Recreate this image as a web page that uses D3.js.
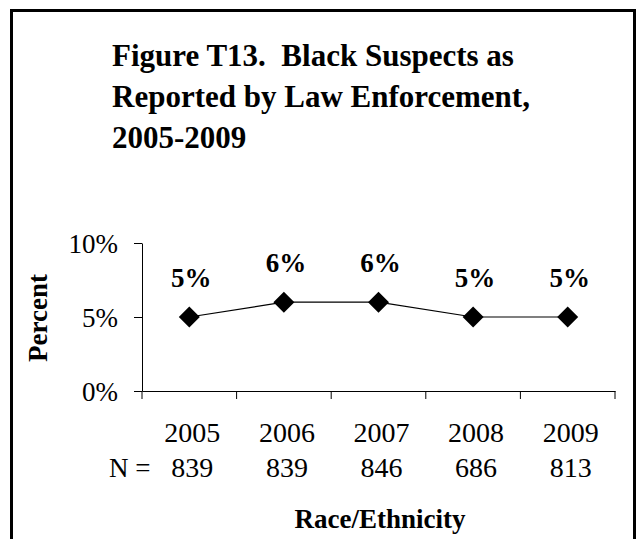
<!DOCTYPE html>
<html><head><meta charset="utf-8">
<script src="https://cdn.jsdelivr.net/npm/d3@7"></script>
<style>body{margin:0;background:#fff}svg{display:block}text{font-family:"Liberation Serif","Times New Roman",serif;fill:#000;white-space:pre}</style>
</head><body><svg id="c" width="637" height="539"></svg>
<script>
const titleLines = ["Figure T13.  Black Suspects as", "Reported by Law Enforcement,", "2005-2009"];
const years = ["2005", "2006", "2007", "2008", "2009"];
const values = [5, 6, 6, 5, 5];
const valueLabels = ["5%", "6%", "6%", "5%", "5%"];
const counts = ["839", "839", "846", "686", "813"];
const yTicks = [0, 5, 10];
const yTitle = "Percent";
const xTitle = "Race/Ethnicity";

const svg = d3.select("#c");
svg.append("rect").attr("x", 11.5).attr("y", 10.5).attr("width", 623).attr("height", 540)
  .attr("fill", "none").attr("stroke", "#000").attr("stroke-width", 3);

svg.append("g").selectAll("text").data(titleLines).join("text")
  .attr("x", 112).attr("y", (d, i) => 66 + i * 41)
  .style("font-size", "31px").style("font-weight", "bold").text(d => d);

const x = d3.scaleBand().domain(years).range([142, 615]);
const y = d3.scaleLinear().domain([0, 10]).range([391, 243]);

const ya = svg.append("g").attr("transform", "translate(142,0)")
  .call(d3.axisLeft(y).tickValues(yTicks).tickFormat(d => d + "%").tickSize(8).tickSizeOuter(0));
ya.select(".domain").attr("stroke", "#000");
ya.selectAll("text").style("font-size", "27px").attr("x", -24).attr("dy", "0.34em");

const xa = svg.append("g").attr("transform", "translate(0,391)")
  .call(d3.axisBottom(x).tickSize(0).tickFormat(""));
xa.select(".domain").attr("stroke", "#000");
xa.selectAll(".tick").remove();
const bounds = years.map(d => x(d)).concat([x.range()[1]]);
svg.append("g").selectAll("line").data(bounds).join("line")
  .attr("x1", d => d).attr("x2", d => d).attr("y1", 391).attr("y2", 399).attr("stroke", "#000");

const line = d3.line().x((d, i) => x(years[i]) + x.bandwidth() / 2).y(d => y(d));
svg.append("path").datum(values).attr("d", line).attr("fill", "none").attr("stroke", "#000").attr("stroke-width", 1.2);

svg.append("g").selectAll("path").data(values).join("path")
  .attr("transform", (d, i) => `translate(${x(years[i]) + x.bandwidth() / 2},${y(d)})`)
  .attr("d", "M0,-10.5L10.5,0L0,10.5L-10.5,0Z").attr("fill", "#000");

svg.append("g").selectAll("text").data(values).join("text")
  .attr("x", (d, i) => x(years[i]) + x.bandwidth() / 2 + 2).attr("y", d => y(d) - 30)
  .attr("text-anchor", "middle").style("font-size", "27px").style("font-weight", "bold")
  .text((d, i) => valueLabels[i]);

svg.append("g").selectAll("text").data(years).join("text")
  .attr("x", d => x(d) + x.bandwidth() / 2 + 3).attr("y", 442)
  .attr("text-anchor", "middle").style("font-size", "28px").text(d => d);

svg.append("g").selectAll("text").data(counts).join("text")
  .attr("x", (d, i) => x(years[i]) + x.bandwidth() / 2 + 3).attr("y", 477)
  .attr("text-anchor", "middle").style("font-size", "28px").text(d => d);
svg.append("text").attr("x", 109).attr("y", 477).style("font-size", "27px").text("N =");

svg.append("text").attr("transform", "translate(47,318) rotate(-90)")
  .attr("text-anchor", "middle").style("font-size", "27px").style("font-weight", "bold").text(yTitle);
svg.append("text").attr("x", 380).attr("y", 528)
  .attr("text-anchor", "middle").style("font-size", "27px").style("font-weight", "bold").text(xTitle);
</script></body></html>
